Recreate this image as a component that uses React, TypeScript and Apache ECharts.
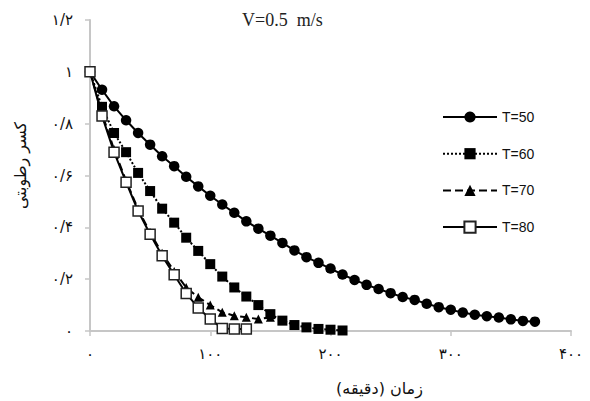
import React, { useEffect, useRef } from 'react';
import * as echarts from 'echarts';

const times50 = [0, 10, 20, 30, 40, 50, 60, 70, 80, 90, 100, 110, 120, 130, 140, 150, 160, 170, 180, 190, 200, 210, 220, 230, 240, 250, 260, 270, 280, 290, 300, 310, 320, 330, 340, 350, 360, 370];
const values50 = [1, 0.931, 0.867, 0.813, 0.764, 0.719, 0.674, 0.636, 0.595, 0.558, 0.522, 0.488, 0.456, 0.423, 0.395, 0.368, 0.34, 0.311, 0.285, 0.263, 0.241, 0.218, 0.197, 0.178, 0.162, 0.146, 0.131, 0.12, 0.105, 0.092, 0.082, 0.071, 0.063, 0.057, 0.052, 0.045, 0.039, 0.036];

const times60 = [0, 10, 20, 30, 40, 50, 60, 70, 80, 90, 100, 110, 120, 130, 140, 150, 160, 170, 180, 190, 200, 210];
const values60 = [1, 0.865, 0.764, 0.69, 0.61, 0.54, 0.472, 0.418, 0.36, 0.309, 0.258, 0.21, 0.168, 0.133, 0.1, 0.065, 0.04, 0.023, 0.014, 0.008, 0.005, 0.002];

const times70 = [0, 10, 20, 30, 40, 50, 60, 70, 80, 90, 100, 110, 120, 130, 140, 150];
const values70 = [1, 0.84, 0.7, 0.58, 0.47, 0.38, 0.3, 0.23, 0.168, 0.13, 0.1, 0.072, 0.059, 0.053, 0.046, 0.053];

const times80 = [0, 10, 20, 30, 40, 50, 60, 70, 80, 90, 100, 110, 120, 130];
const values80 = [1, 0.83, 0.69, 0.574, 0.463, 0.373, 0.29, 0.217, 0.145, 0.089, 0.046, 0.01, 0.008, 0.008];

const seriesNames = ['T=50', 'T=60', 'T=70', 'T=80'];
const xTicks = { min: 0, max: 400, interval: 100 };
const yTicks = { min: 0, max: 1.2, interval: 0.2 };

const titleText = 'V=0.5  m/s';
const xName = 'زمان (دقیقه)';
const yName = 'کسر رطوبتی';

const faDigits = ['۰', '۱', '۲', '۳', '۴', '۵', '۶', '۷', '۸', '۹'];
const toFa = (v: number) => {
  const r = Math.round(v * 10) / 10;
  return String(r).replace('.', '/').replace(/[0-9]/g, (d) => faDigits[Number(d)]);
};

const zip = (xs: number[], ys: number[]) => xs.map((x, i) => [x, ys[i]]);

export default function App() {
  const ref = useRef<HTMLDivElement>(null);
  useEffect(() => {
    document.body.style.margin = '0';
    if (!ref.current) return;
    const chart = echarts.init(ref.current, undefined, { renderer: 'svg' });
    const axisColor = '#c6c6c6';
    const persianFont = 'DejaVu Sans';
    chart.setOption({
      animation: false,
      backgroundColor: '#fff',
      title: {
        text: titleText,
        left: 242,
        top: 11,
        padding: 0,
        textStyle: { fontFamily: 'Liberation Serif', fontSize: 18, fontWeight: 'normal', color: '#222' },
      },
      legend: {
        orient: 'vertical',
        left: 437,
        top: 105,
        itemWidth: 54,
        itemHeight: 14,
        itemGap: 22.7,
        textStyle: { fontFamily: 'Liberation Sans', fontSize: 14, color: '#111' },
        data: seriesNames,
      },
      grid: { left: 90, right: 19, top: 20, bottom: 69 },
      xAxis: {
        type: 'value',
        min: xTicks.min,
        max: xTicks.max,
        interval: xTicks.interval,
        name: xName,
        nameLocation: 'middle',
        nameGap: 49,
        nameTextStyle: { fontFamily: persianFont, fontSize: 16, color: '#111', padding: [0, 0, 0, 98] },
        axisLine: { show: true, lineStyle: { color: axisColor, width: 2 } },
        axisTick: { show: true, length: 5, lineStyle: { color: axisColor, width: 1.5 } },
        splitLine: { show: false },
        axisLabel: { formatter: (v: number) => toFa(v), margin: 15, fontSize: 15, color: '#111', fontFamily: persianFont },
      },
      yAxis: {
        type: 'value',
        min: yTicks.min,
        max: yTicks.max,
        interval: yTicks.interval,
        name: yName,
        nameLocation: 'middle',
        nameGap: 62,
        nameTextStyle: { fontFamily: persianFont, fontSize: 16, color: '#111', padding: [0, 0, 0, 20] },
        axisLine: { show: true, lineStyle: { color: axisColor, width: 2 } },
        axisTick: { show: true, length: 5, lineStyle: { color: axisColor, width: 1.5 } },
        splitLine: { show: false },
        axisLabel: { formatter: (v: number) => toFa(v), margin: 17, fontSize: 15, color: '#111', fontFamily: persianFont },
      },
      series: [
        {
          name: seriesNames[0],
          type: 'line',
          data: zip(times50, values50),
          symbol: 'circle',
          symbolSize: 10.5,
          itemStyle: { color: '#000' },
          lineStyle: { color: '#000', width: 2, type: 'solid' },
        },
        {
          name: seriesNames[1],
          type: 'line',
          data: zip(times60, values60),
          symbol: 'rect',
          symbolSize: 10,
          itemStyle: { color: '#000' },
          lineStyle: { color: '#000', width: 2, type: 'dotted' },
        },
        {
          name: seriesNames[2],
          type: 'line',
          data: zip(times70, values70),
          symbol: 'triangle',
          symbolSize: 9,
          itemStyle: { color: '#000' },
          lineStyle: { color: '#000', width: 2, type: 'dashed' },
        },
        {
          name: seriesNames[3],
          type: 'line',
          data: zip(times80, values80),
          symbol: 'rect',
          symbolSize: 10,
          itemStyle: { color: '#fff', borderColor: '#222', borderWidth: 1.5 },
          lineStyle: { color: '#000', width: 2, type: 'solid' },
        },
      ],
    });
    return () => chart.dispose();
  }, []);
  return <div ref={ref} style={{ width: 590, height: 401 }} />;
}
